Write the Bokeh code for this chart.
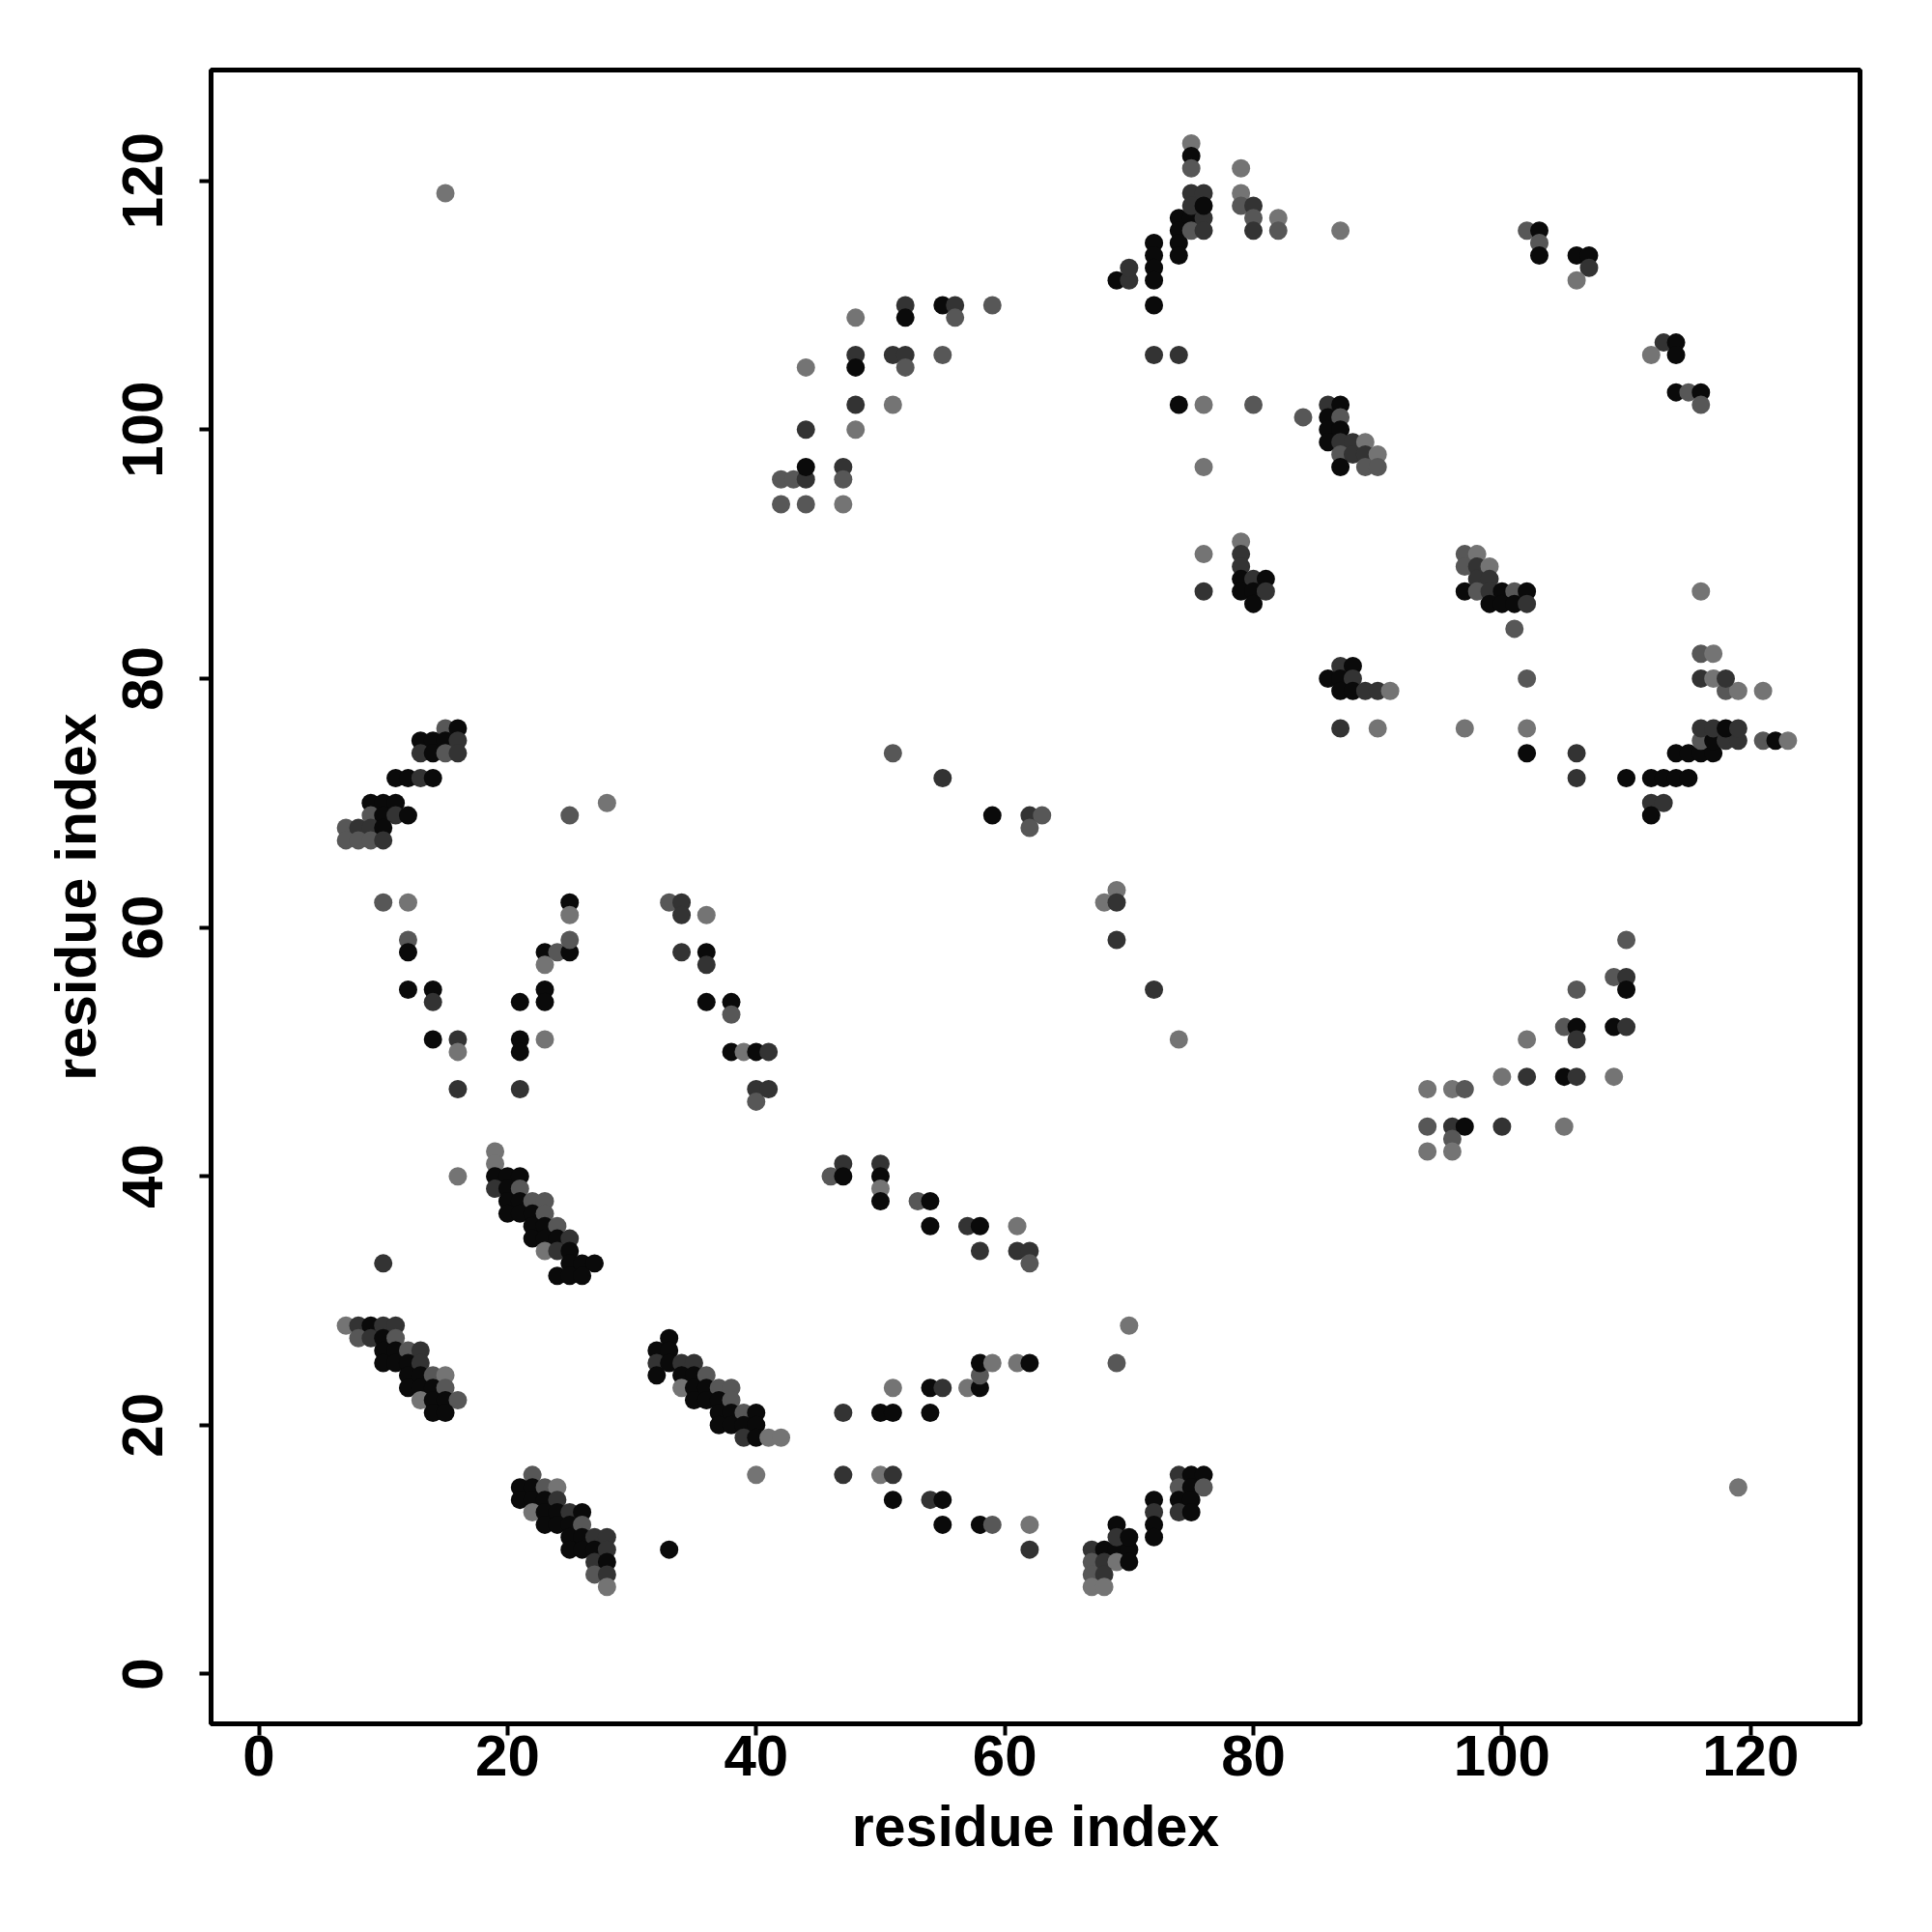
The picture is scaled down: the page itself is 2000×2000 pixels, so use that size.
from bokeh.plotting import figure
from bokeh.models import Range1d, FixedTicker, ColumnDataSource
from bokeh.embed import file_html
from bokeh.resources import INLINE

# contact map: residue i (x), residue j (y), shade level (0 = strongest/black ... 3 = weakest/light grey)
res_x = [
    15,
    42, 43, 44, 44, 47, 47, 42, 44, 47, 44, 48, 48, 51, 44, 48, 48, 51, 52, 52, 55, 48, 52, 52, 55, 56, 56, 59,
    69, 70, 70, 72, 72, 72, 72, 72, 72, 74, 74, 76, 80, 84, 76, 74, 74, 74, 74, 75, 75, 76, 76, 75, 76, 75, 76, 75, 75, 75, 79, 79, 79, 80, 80, 80, 82, 82,
    87, 102, 103, 103, 103, 106, 107, 107, 106, 113, 114, 112, 114, 114, 115, 116, 116, 86, 87, 86, 87, 86, 87, 86, 87, 88, 89, 87, 88, 89, 90, 87, 89, 90,
    76, 79, 79, 79, 79, 80, 81, 79, 80, 81, 80, 76, 51, 55, 59, 62, 63, 62, 69,
    97, 98, 97, 98, 99, 98, 99, 97, 98, 99, 100, 101, 102, 99, 100, 101, 102, 101, 102, 102, 102, 106, 106,
    110, 112, 113, 114, 115, 112, 113, 112, 114, 115, 116, 117, 116, 117, 118, 119, 121, 122, 123,
    116, 117, 118, 119, 118, 119, 121, 116, 117, 118, 116, 117, 116, 87, 88, 86, 87, 88, 87, 88, 89, 90, 91, 87, 90, 97,
    15, 16, 13, 14, 15, 16, 13, 14, 15, 16, 11, 12, 13, 14, 9, 10, 11, 9, 10, 11, 12, 7, 8, 9, 10, 7, 8, 9, 10, 25, 28,
    10, 12, 25, 25, 33, 34, 34, 36, 12, 12, 23, 24, 25, 25, 23, 34, 36, 36, 12, 14, 14, 21, 23, 23, 36, 38, 38,
    14, 16, 16, 21, 21, 23, 38, 39, 40, 40, 40, 16, 21, 19, 19, 16, 19, 20, 21, 19, 20, 21,
    20, 21, 22, 23, 20, 21, 22, 23, 22, 23, 24, 22, 23, 24, 25, 23, 24, 25, 25, 26, 27, 24, 25, 26, 10,
    68, 69, 69, 72, 74, 41, 41, 46, 47, 47, 50, 50, 50, 50, 53, 54, 54, 57, 58, 61, 58, 61, 62, 62,
    110, 109, 110, 110, 106, 105, 106, 106, 109, 110, 102, 100, 102, 105, 106, 109, 94, 96, 97, 94, 96, 97, 100, 105, 96, 94, 96,
    7, 8, 9, 10, 11, 8, 9, 10, 11, 10, 11, 12, 13, 10, 11, 12, 13, 12, 13, 14, 15, 12, 13, 14, 15, 13, 14, 15, 16, 14, 15,
    22, 21, 22, 23, 24, 21, 22, 23, 24, 22, 23, 24, 25, 26, 23, 24, 25, 26, 25, 26, 27, 28, 25, 26, 27, 28, 27, 28, 27, 28, 28, 33,
    33, 32, 33, 32, 33, 34, 35, 32, 34, 35, 36, 34, 35, 36, 37, 38, 35, 36, 37, 38, 37, 38, 39, 40, 37, 38, 39, 40, 39, 40, 40,
    41, 42, 47, 50, 51, 54, 51, 54, 55, 57, 58, 58, 58, 59, 61, 62, 69, 70, 47, 50, 51, 51, 54, 55, 55, 58, 59, 62, 62,
    67, 68, 69, 70, 69, 69, 70, 67, 68, 69, 70, 67, 68, 67, 68, 72, 72, 72, 72, 74, 75, 76, 74, 75, 76, 74, 75, 74, 75, 119,
]
res_y = [
    119,
    96, 96, 96, 97, 97, 96, 94, 94, 94, 100, 100, 102, 102, 105, 106, 105, 106, 106, 105, 106, 109, 110, 109, 110, 110, 109, 110,
    112, 112, 113, 115, 114, 113, 112, 110, 106, 106, 102, 102, 102, 101, 97, 117, 116, 115, 114, 117, 116, 117, 116, 119, 119, 118, 118, 123, 122, 121, 121, 119, 118, 118, 117, 116, 117, 116,
    116, 116, 116, 115, 114, 114, 114, 113, 112, 107, 107, 106, 106, 103, 103, 103, 102, 102, 102, 101, 101, 100, 100, 99, 99, 99, 99, 98, 98, 98, 98, 97, 97, 97,
    90, 91, 90, 89, 88, 88, 88, 87, 87, 87, 86, 87, 74, 72, 69, 69, 69, 68, 63,
    90, 90, 89, 89, 89, 88, 88, 87, 87, 87, 87, 87, 87, 86, 86, 86, 86, 84, 80, 76, 74, 74, 72,
    72, 72, 72, 72, 72, 70, 70, 69, 74, 74, 74, 74, 75, 75, 75, 75, 75, 75, 75,
    76, 76, 76, 76, 79, 79, 79, 80, 80, 80, 82, 82, 87, 81, 81, 80, 80, 80, 79, 79, 79, 79, 79, 76, 76, 76,
    76, 76, 75, 75, 75, 75, 74, 74, 74, 74, 72, 72, 72, 72, 70, 70, 70, 69, 69, 69, 69, 68, 68, 68, 68, 67, 67, 67, 67, 69, 70,
    62, 62, 62, 61, 62, 62, 61, 61, 59, 58, 58, 58, 58, 59, 57, 58, 58, 57, 55, 55, 54, 54, 55, 54, 54, 54, 53,
    51, 51, 50, 51, 50, 51, 50, 50, 50, 47, 46, 47, 47, 42, 41, 40, 40, 40, 40, 39, 39, 39,
    38, 38, 38, 38, 37, 37, 37, 37, 36, 36, 36, 35, 35, 35, 35, 34, 34, 34, 33, 33, 33, 32, 32, 32, 33,
    62, 62, 59, 55, 51, 50, 47, 40, 41, 40, 41, 40, 39, 38, 38, 38, 36, 36, 36, 36, 34, 34, 34, 33,
    59, 56, 56, 55, 55, 52, 52, 51, 52, 52, 51, 48, 48, 48, 48, 48, 47, 47, 47, 44, 44, 44, 44, 44, 43, 42, 42,
    28, 28, 28, 28, 28, 27, 27, 27, 27, 26, 26, 26, 26, 25, 25, 25, 25, 24, 24, 24, 24, 23, 23, 23, 23, 22, 22, 22, 22, 21, 21,
    16, 15, 15, 15, 15, 14, 14, 14, 14, 13, 13, 13, 13, 13, 12, 12, 12, 12, 11, 11, 11, 11, 10, 10, 10, 10, 9, 9, 8, 8, 7, 10,
    27, 26, 26, 25, 25, 25, 25, 24, 24, 24, 24, 23, 23, 23, 23, 23, 22, 22, 22, 22, 21, 21, 21, 21, 20, 20, 20, 20, 19, 19, 16,
    19, 19, 21, 21, 21, 21, 23, 23, 23, 23, 23, 24, 25, 25, 25, 25, 25, 28, 16, 16, 16, 14, 14, 14, 12, 12, 12, 12, 10,
    10, 10, 10, 10, 12, 11, 11, 9, 9, 9, 9, 8, 8, 7, 7, 14, 13, 12, 11, 16, 16, 16, 15, 15, 15, 14, 14, 13, 13, 15,
]
shade = [
    3,
    2, 2, 1, 0, 1, 2, 2, 2, 3, 1, 3, 1, 3, 3, 1, 0, 1, 1, 2, 2, 3, 1, 0, 0, 1, 2, 2,
    0, 1, 1, 0, 0, 0, 0, 0, 1, 1, 0, 3, 2, 2, 3, 0, 0, 0, 0, 0, 2, 1, 1, 1, 1, 1, 0, 3, 0, 2, 3, 3, 2, 1, 2, 1, 3, 2,
    3, 2, 0, 2, 0, 0, 0, 1, 3, 1, 0, 3, 0, 0, 2, 0, 2, 1, 0, 0, 2, 0, 0, 0, 1, 1, 3, 2, 1, 1, 3, 0, 2, 2,
    3, 3, 1, 1, 0, 1, 0, 0, 0, 1, 0, 1, 2, 1, 0, 1, 2, 2, 3,
    2, 3, 2, 1, 3, 1, 1, 0, 2, 1, 0, 2, 0, 0, 0, 0, 1, 2, 2, 3, 0, 1, 1,
    0, 0, 0, 0, 0, 1, 1, 0, 0, 0, 0, 0, 2, 0, 1, 1, 2, 0, 3,
    1, 1, 0, 1, 2, 3, 3, 1, 3, 1, 2, 3, 3, 1, 0, 0, 0, 1, 0, 0, 1, 1, 3, 1, 3, 3,
    2, 0, 0, 0, 0, 1, 1, 0, 2, 1, 0, 0, 1, 0, 0, 0, 0, 2, 0, 1, 0, 2, 1, 1, 0, 2, 2, 2, 1, 2, 3,
    2, 3, 0, 3, 2, 1, 1, 3, 2, 0, 0, 2, 0, 2, 3, 1, 0, 1, 0, 0, 1, 0, 0, 0, 0, 0, 2,
    0, 1, 3, 0, 0, 3, 0, 3, 0, 1, 2, 1, 1, 3, 3, 3, 0, 0, 0, 1, 0, 2,
    0, 0, 2, 2, 0, 0, 0, 2, 0, 0, 2, 0, 0, 0, 1, 3, 1, 0, 0, 0, 0, 0, 0, 0, 1,
    3, 1, 1, 1, 3, 1, 1, 2, 1, 0, 1, 0, 3, 0, 2, 0, 0, 1, 0, 3, 1, 1, 1, 2,
    2, 2, 1, 0, 2, 2, 0, 1, 0, 1, 3, 3, 1, 0, 1, 3, 3, 3, 2, 2, 1, 0, 1, 3, 2, 3, 3,
    3, 1, 0, 1, 1, 2, 1, 0, 2, 0, 0, 2, 1, 0, 0, 0, 1, 0, 0, 2, 3, 0, 0, 0, 2, 3, 0, 0, 2, 0, 0,
    2, 0, 0, 2, 3, 0, 0, 0, 1, 3, 0, 0, 1, 0, 0, 0, 0, 2, 0, 0, 1, 1, 0, 0, 0, 1, 1, 0, 2, 1, 3, 0,
    0, 0, 0, 1, 0, 1, 1, 0, 0, 0, 2, 3, 0, 0, 2, 2, 0, 0, 0, 2, 0, 0, 2, 0, 0, 0, 0, 0, 1, 0, 3,
    3, 3, 1, 0, 0, 0, 3, 0, 1, 3, 0, 2, 0, 3, 3, 0, 2, 3, 1, 3, 1, 0, 1, 0, 0, 0, 2, 3, 1,
    1, 0, 0, 0, 0, 1, 0, 2, 1, 3, 0, 2, 1, 3, 3, 0, 1, 0, 0, 1, 0, 0, 2, 0, 2, 0, 0, 1, 0, 3,
]
tick_values = [0, 20, 40, 60, 80, 100, 120]
shade_palette = ["#0a0a0a", "#333333", "#575757", "#747474"]
axis_title = "residue index"

assert len(res_x) == len(res_y) == len(shade), (len(res_x), len(res_y), len(shade))

src = ColumnDataSource(dict(x=res_x, y=res_y, c=[shade_palette[s] for s in shade]))

p = figure(width=1977, height=1976,
           x_range=Range1d(-3.85, 128.8), y_range=Range1d(-4.0, 128.9),
           output_backend="svg", toolbar_location=None,
           min_border_left=218, min_border_right=52, min_border_top=72, min_border_bottom=192)
p.scatter("x", "y", source=src, size=19, fill_color="c", line_color=None)

p.xgrid.visible = False
p.ygrid.visible = False
p.outline_line_color = "black"
p.outline_line_width = 5
p.background_fill_color = "white"
p.border_fill_color = "white"

for ax in (p.xaxis[0], p.yaxis[0]):
    ax.ticker = FixedTicker(ticks=tick_values)
    ax.minor_tick_line_color = None
    ax.axis_line_color = None
    ax.major_tick_line_width = 4
    ax.major_tick_line_color = "black"
    ax.major_tick_out = 12
    ax.major_tick_in = 0
    ax.major_label_text_font = "Liberation Sans"
    ax.major_label_text_font_style = "bold"
    ax.major_label_text_font_size = "60px"
    ax.major_label_text_color = "black"
    ax.axis_label = axis_title
    ax.axis_label_text_font = "Liberation Sans"
    ax.axis_label_text_font_style = "bold"
    ax.axis_label_text_font_size = "59px"
    ax.axis_label_text_color = "black"

p.xaxis.major_label_standoff = 0
p.xaxis.axis_label_standoff = 17
p.yaxis.major_label_orientation = "vertical"
p.yaxis.major_label_standoff = 38
p.yaxis.axis_label_standoff = 13

open("out.html", "w").write(file_html(p, INLINE))
